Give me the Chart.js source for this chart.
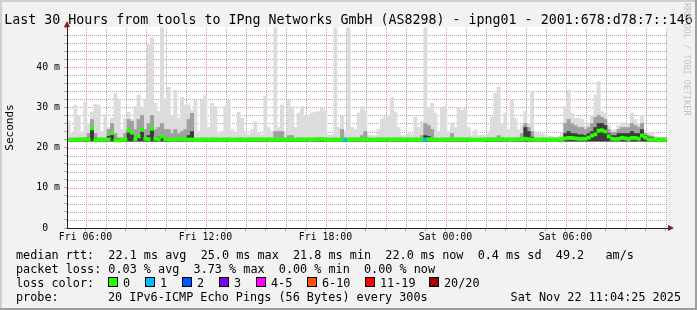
<!DOCTYPE html>
<html>
<head>
<meta charset="utf-8">
<script src="https://cdn.jsdelivr.net/npm/chart.js@4.4.1/dist/chart.umd.min.js"></script>
<style>
html, body { margin: 0; padding: 0; background: #f2f2f2; }
canvas { display: block; background: #f2f2f2; }
</style>
</head>
<body>
<canvas id="smoke" width="697" height="310"></canvas>
<script>
// Fri 05:04:25 .. Sat 11:04:25, in hours since Fri 00:00
const startHour = 5 + 4 / 60 + 25 / 3600;
const spanHours = 30;
const stepHours = 1 / 6; // one column every 10 minutes

// hour ticks (hours since Fri 00:00)
const hourTicks = [6,7,8,9,10,11,12,13,14,15,16,17,18,19,20,21,22,23,24,25,26,27,28,29,30,31,32,33,34,35];

// smoke: highest ping per column (ms)
const smokeMax = [
  26.6,23.5,30.6,28.0,23.5,31.2,
  26.0,28.8,30.8,30.6,24.0,28.3,
  25.0,27.3,33.5,32.1,24.5,27.3,
  28.8,27.0,30.2,33.1,30.0,32.0,
  45.6,47.3,31.0,29.0,49.8,32.2,
  35.0,28.0,34.3,27.3,32.5,30.6,
  30.6,29.3,31.8,24.0,31.8,32.9,
  25.0,31.0,30.2,23.5,24.0,30.4,
  31.8,24.5,23.5,28.8,27.3,24.0,
  23.2,24.4,26.5,23.5,23.2,32.9,
  25.0,24.0,49.8,25.0,30.6,23.5,
  31.8,30.2,25.0,28.6,30.2,28.0,
  28.0,28.6,28.8,29.0,29.8,29.3,
  23.2,23.2,49.8,25.0,27.8,24.0,
  49.8,25.0,24.5,28.6,30.2,29.3,
  23.2,23.0,23.0,24.5,27.1,27.7,
  28.0,32.5,28.8,25.0,23.0,23.0,
  23.5,23.2,27.6,25.0,26.5,49.8,
  30.0,31.0,28.6,24.0,29.8,30.4,
  24.0,26.2,25.0,29.8,29.3,29.8,
  25.0,23.2,24.4,23.0,23.2,23.0,
  24.0,27.6,33.5,35.0,26.0,28.6,
  24.5,31.8,27.3,24.5,25.5,29.0,
  26.0,34.0,24.0,23.5,23.5,23.2,
  22.8,22.8,22.6,22.8,23.5,30.2,
  34.3,28.6,27.3,27.3,27.0,25.5,
  26.2,28.0,33.1,36.4,29.0,28.6,
  25.5,24.4,24.5,25.5,26.2,26.2,
  26.0,28.6,27.0,26.0,28.0,24.0,
  23.7,23.7,22.8,22.6,22.6,22.6
];

// smoke: upper edge of the denser band
const smokeMid = [
  22.4,22.4,22.4,22.4,22.4,22.4,
  23.5,27.0,23.5,22.4,22.4,22.4,
  24.5,26.0,23.5,22.4,22.4,23.5,
  27.0,26.5,24.5,27.0,28.0,24.5,
  26.0,28.0,24.5,25.0,26.0,24.5,
  24.5,23.5,24.5,23.5,24.0,24.5,
  27.0,28.5,22.4,22.4,22.4,22.4,
  22.4,22.4,22.4,22.4,22.4,22.4,
  22.4,22.4,22.4,22.4,22.4,22.4,
  22.4,22.4,22.4,22.4,22.4,22.4,
  22.4,22.4,24.0,24.0,24.0,22.4,
  23.0,23.0,22.4,22.4,22.4,22.4,
  22.4,22.4,22.4,22.4,22.4,22.4,
  22.4,22.4,22.4,22.4,24.5,22.4,
  22.4,22.4,22.4,22.4,23.0,24.0,
  22.4,22.4,22.4,22.4,22.4,22.4,
  22.4,22.4,22.4,22.4,22.4,22.4,
  22.4,22.4,22.4,22.4,23.0,26.0,
  25.5,24.5,22.4,22.4,22.4,22.4,
  22.4,23.5,22.4,22.4,22.4,22.4,
  22.4,22.4,22.4,22.4,22.4,22.4,
  22.4,22.4,22.4,23.0,22.4,22.4,
  22.4,22.4,22.4,22.4,23.5,26.0,
  25.0,24.0,22.4,22.4,22.4,22.4,
  22.4,22.4,22.4,22.4,22.4,26.0,
  27.0,26.0,25.5,25.0,25.0,24.5,
  25.0,26.0,27.5,28.0,27.5,27.0,
  24.5,23.8,23.8,24.5,25.0,25.0,
  25.0,26.0,25.5,25.0,26.0,23.5,
  23.0,22.8,22.4,22.4,22.4,22.4
];

// smoke: upper edge of the darkest band
const smokeDark = [
  22.2,22.2,22.2,22.2,22.2,22.2,
  22.2,24.8,22.2,22.2,22.2,22.2,
  22.8,23.6,22.2,22.2,22.2,22.2,
  24.2,23.7,22.2,23.0,24.4,22.2,
  23.0,24.7,22.2,22.6,23.0,22.2,
  22.2,22.2,22.2,22.2,22.2,22.2,
  23.0,24.0,22.2,22.2,22.2,22.2,
  22.2,22.2,22.2,22.2,22.2,22.2,
  22.2,22.2,22.2,22.2,22.2,22.2,
  22.2,22.2,22.2,22.2,22.2,22.2,
  22.2,22.2,22.2,22.2,22.2,22.2,
  22.2,22.2,22.2,22.2,22.2,22.2,
  22.2,22.2,22.2,22.2,22.2,22.2,
  22.2,22.2,22.2,22.2,22.2,22.2,
  22.2,22.2,22.2,22.2,22.2,22.2,
  22.2,22.2,22.2,22.2,22.2,22.2,
  22.2,22.2,22.2,22.2,22.2,22.2,
  22.2,22.2,22.2,22.2,22.2,23.0,
  22.8,22.2,22.2,22.2,22.2,22.2,
  22.2,22.2,22.2,22.2,22.2,22.2,
  22.2,22.2,22.2,22.2,22.2,22.2,
  22.2,22.2,22.2,22.2,22.2,22.2,
  22.2,22.2,22.2,22.2,22.2,25.0,
  24.0,22.6,22.2,22.2,22.2,22.2,
  22.2,22.2,22.2,22.2,22.2,23.5,
  24.0,23.5,23.5,23.2,23.2,23.0,
  23.5,24.0,25.0,26.0,26.0,25.5,
  23.5,23.0,23.0,23.5,23.5,23.5,
  23.5,24.0,23.5,23.5,24.5,23.0,
  22.6,22.5,22.2,22.2,22.2,22.2
];

// median rtt per column (ms)
const medianRtt = [
  21.9,21.9,21.9,22.0,22.0,22.1,
  22.0,24.8,21.8,22.0,22.0,22.0,
  22.0,23.6,21.8,21.8,22.0,22.0,
  24.2,23.7,22.1,22.8,24.4,22.2,
  22.1,24.7,22.2,22.1,22.8,22.1,
  22.0,22.0,22.0,22.1,22.0,22.0,
  22.0,22.0,21.9,21.9,22.0,22.0,
  21.9,22.0,22.0,21.9,21.9,22.0,
  22.0,21.9,21.9,22.0,22.0,21.9,
  22.0,22.0,22.0,22.0,22.0,22.0,
  22.0,22.0,22.0,22.0,22.0,21.9,
  22.0,22.0,21.9,22.0,22.0,22.0,
  22.0,22.0,22.0,22.1,22.1,22.0,
  21.9,21.9,22.0,21.9,22.0,22.0,
  22.0,22.0,22.0,22.0,22.0,22.0,
  22.0,21.9,21.9,22.0,22.0,22.0,
  22.0,22.0,22.0,22.0,22.0,22.0,
  22.0,21.9,22.0,21.9,22.0,22.0,
  22.1,22.0,22.0,21.9,22.0,22.0,
  22.0,22.0,22.0,22.0,22.0,22.0,
  22.0,21.9,21.9,21.9,21.9,22.0,
  22.0,22.0,22.0,22.0,22.1,22.0,
  22.0,22.0,22.0,22.1,22.1,22.2,
  22.1,22.0,22.0,21.9,22.0,22.0,
  21.9,21.9,21.9,22.0,22.0,22.3,
  22.4,22.4,22.3,22.2,22.2,22.2,
  22.5,23.0,23.3,24.2,24.3,24.0,
  22.8,22.2,22.1,22.2,22.4,22.3,
  22.1,22.4,22.4,22.2,23.0,22.5,
  22.0,22.0,22.0,21.8,22.0,22.0
];

// lost pings (of 20) per column
const lostPings = [
  0,0,0,0,0,0, 0,0,0,0,0,0, 0,0,0,0,0,0, 0,0,0,0,0,0, 0,0,0,0,0,0,
  0,0,0,0,0,0, 0,0,0,0,0,0, 0,0,0,0,0,0, 0,0,0,0,0,0, 0,0,0,0,0,0,
  0,0,0,0,0,0, 0,0,0,0,0,0, 0,0,0,0,0,0, 0,0,0,0,0,1, 0,0,0,0,0,0,
  0,0,0,0,0,0, 0,0,0,0,0,0, 0,0,0,0,0,1, 0,0,0,0,0,0, 0,0,0,0,0,0,
  0,0,0,0,0,0, 0,0,0,0,0,0, 0,0,0,0,0,0, 0,0,0,0,0,0, 0,0,0,0,0,0,
  0,0,0,0,0,0, 0,0,0,0,0,0, 0,0,0,0,0,0, 0,0,0,0,0,0, 0,0,0,0,0,0
];

const lossLabels = ['0', '1', '2', '3', '4-5', '6-10', '11-19', '20/20'];
const lossColors = ['#26ff00', '#00b8ff', '#0059ff', '#7e00ff', '#ff00ff', '#ff5500', '#ff0000', '#a10000'];

const legendLines = [
  'median rtt:  22.1 ms avg  25.0 ms max  21.8 ms min  22.0 ms now  0.4 ms sd  49.2   am/s',
  'packet loss: 0.03 % avg  3.73 % max  0.00 % min  0.00 % now'
];
const titleText = 'Last 30 Hours from tools to IPng Networks GmbH (AS8298) - ipng01 - 2001:678:d78:7::146';
const probeText = '20 IPv6-ICMP Echo Pings (56 Bytes) every 300s';
const stampText = 'Sat Nov 22 11:04:25 2025';

const mono = '"DejaVu Sans Mono", monospace';
const smokeFloor = 21.6;

// rrdtool default palette
const majorGrid = 'rgba(222,79,79,0.6)';
const minorGrid = 'rgba(143,143,143,0.75)';
const axisColor = '#1f1f1f';
const arrowColor = '#801f1f';

function lossIndex(n) {
  if (n <= 3) return n;
  if (n <= 5) return 4;
  if (n <= 10) return 5;
  if (n < 20) return 6;
  return 7;
}

const times = medianRtt.map((_, i) => startHour + (i + 0.5) * stepHours);
function band(top) {
  return times.map((t, i) => ({ x: t, y: [smokeFloor, top[i]] }));
}

const barStyle = { barPercentage: 1, categoryPercentage: 1, grouped: false, borderWidth: 0 };

const framePlugin = {
  id: 'rrdFrame',
  beforeDatasetsDraw(chart) {
    const { ctx, chartArea: a, scales } = chart;
    ctx.save();
    ctx.fillStyle = '#ffffff';
    ctx.fillRect(a.left, a.top, a.right - a.left, a.bottom - a.top);
    // dotted grid (1 on / 1 off) at the scales' own ticks
    const x0 = Math.ceil(a.left), x1 = Math.floor(a.right);
    const y0 = Math.ceil(a.top), y1 = Math.floor(a.bottom);
    [false, true].forEach(major => {
      ctx.fillStyle = major ? majorGrid : minorGrid;
      scales.y.ticks.forEach(t => {
        if (t.value <= 0 || t.value >= 50) return;
        if ((t.value % 10 === 0) !== major) return;
        const py = Math.round(scales.y.getPixelForValue(t.value));
        for (let px = x0 + 1; px < x1; px += 2) ctx.fillRect(px, py, 1, 1);
      });
      scales.x.ticks.forEach(t => {
        if ((t.value % 3 === 0) !== major) return;
        const px = Math.round(scales.x.getPixelForValue(t.value));
        for (let py = y0 + 1; py < y1; py += 2) ctx.fillRect(px, py, 1, 1);
      });
    });
    ctx.restore();
  },
  afterDraw(chart) {
    const { ctx, chartArea: a } = chart;
    ctx.save();
    // outer shade
    ctx.fillStyle = '#cfcfcf';
    ctx.fillRect(0, 0, 697, 2);
    ctx.fillRect(0, 0, 2, 310);
    ctx.fillStyle = '#9e9e9e';
    ctx.fillRect(0, 308, 697, 2);
    ctx.fillRect(695, 0, 2, 310);

    // axis arrows
    ctx.fillStyle = arrowColor;
    ctx.beginPath();
    ctx.moveTo(a.left - 3, a.top);
    ctx.lineTo(a.left + 3, a.top);
    ctx.lineTo(a.left, a.top - 6);
    ctx.fill();
    ctx.beginPath();
    ctx.moveTo(a.right + 1, a.bottom - 3);
    ctx.lineTo(a.right + 1, a.bottom + 3);
    ctx.lineTo(a.right + 7, a.bottom);
    ctx.fill();

    // title
    ctx.fillStyle = '#000';
    ctx.font = '13.3px ' + mono;
    ctx.textAlign = 'center';
    ctx.textBaseline = 'alphabetic';
    ctx.fillText(titleText, 348.5, 24);

    // legend
    ctx.font = '11.8px ' + mono;
    ctx.textAlign = 'left';
    ctx.fillText(legendLines[0], 16, 258.5);
    ctx.fillText(legendLines[1], 16, 272.5);
    ctx.fillText('loss color:', 16, 286.5);
    const boxX = [108, 145, 182, 219, 256, 307, 365, 429];
    lossLabels.forEach((lab, i) => {
      ctx.fillStyle = lossColors[i];
      ctx.fillRect(boxX[i], 277.5, 9, 9);
      ctx.strokeStyle = '#000';
      ctx.lineWidth = 1;
      ctx.strokeRect(boxX[i] + 0.5, 277.5, 9, 9);
      ctx.fillStyle = '#000';
      ctx.fillText(lab, boxX[i] + 15, 286.5);
    });
    ctx.fillText('probe:', 16, 300.5);
    ctx.fillText(probeText, 108, 300.5);
    ctx.textAlign = 'right';
    ctx.fillText(stampText, 681, 300.5);

    // watermark
    ctx.translate(686, 3);
    ctx.rotate(Math.PI / 2);
    ctx.font = '8.5px ' + mono;
    ctx.fillStyle = '#c4c4c4';
    ctx.textAlign = 'left';
    ctx.textBaseline = 'middle';
    ctx.fillText('RRDTOOL / TOBI OETIKER', 0, 0);
    ctx.restore();
  }
};

const ctx = document.getElementById('smoke').getContext('2d');
const chart = new Chart(ctx, {
  type: 'bar',
  data: {
    datasets: [
      Object.assign({ label: 'smoke', data: band(smokeMax), backgroundColor: '#dcdcdc', order: 4 }, barStyle),
      Object.assign({ label: 'smoke mid', data: band(smokeMid), backgroundColor: '#a0a0a0', order: 3 }, barStyle),
      Object.assign({ label: 'smoke dark', data: band(smokeDark), backgroundColor: '#3c3c3c', order: 2 }, barStyle),
      Object.assign({
        label: 'median rtt',
        data: times.map((t, i) => ({ x: t, y: [medianRtt[i] - 0.4, medianRtt[i] + 0.4] })),
        backgroundColor: lostPings.map(n => lossColors[lossIndex(n)]),
        order: 1
      }, barStyle)
    ]
  },
  options: {
    responsive: false,
    animation: false,
    events: [],
    layout: {
      padding: { top: 27, right: 30, left: 0, bottom: 0 }
    },
    plugins: {
      legend: { display: false },
      tooltip: { enabled: false }
    },
    scales: {
      x: {
        type: 'linear',
        min: startHour,
        max: startHour + spanHours,
        bounds: 'data',
        offset: false,
        afterBuildTicks: (s) => { s.ticks = hourTicks.map(h => ({ value: h })); },
        afterFit: (s) => { s.height = 82; },
        ticks: {
          autoSkip: false,
          maxRotation: 0,
          padding: 1,
          color: '#000',
          font: { family: mono, size: 9.85 },
          callback: (v) => {
            if (v % 6 !== 0) return '';
            const day = v < 24 ? 'Fri' : 'Sat';
            const hh = String(v % 24).padStart(2, '0');
            return day + ' ' + hh + ':00';
          }
        },
        grid: {
          drawOnChartArea: false,
          offset: false,
          lineWidth: 1,
          tickLength: 3,
          tickColor: (c) => (c.tick && c.tick.value % 3 === 0) ? majorGrid : minorGrid
        },
        border: { display: true, color: axisColor, width: 1, z: 2 }
      },
      y: {
        min: 0,
        max: 50,
        afterFit: (s) => { s.width = 67; },
        title: {
          display: true,
          text: 'Seconds',
          color: '#000',
          font: { family: mono, size: 11 },
          padding: { top: 4, bottom: 0 }
        },
        ticks: {
          stepSize: 2,
          autoSkip: false,
          padding: 4,
          color: '#000',
          font: { family: mono, size: 9.85 },
          callback: (v) => {
            if (v % 10 !== 0 || v === 50) return '';
            return v === 0 ? '0  ' : v + ' m';
          }
        },
        grid: {
          drawOnChartArea: false,
          lineWidth: 1,
          tickLength: 3,
          tickColor: (c) => {
            const v = c.tick ? c.tick.value : 0;
            return v % 10 === 0 ? majorGrid : minorGrid;
          }
        },
        border: { display: true, color: axisColor, width: 1, z: 2 }
      }
    }
  },
  plugins: [framePlugin]
});
</script>
</body>
</html>
